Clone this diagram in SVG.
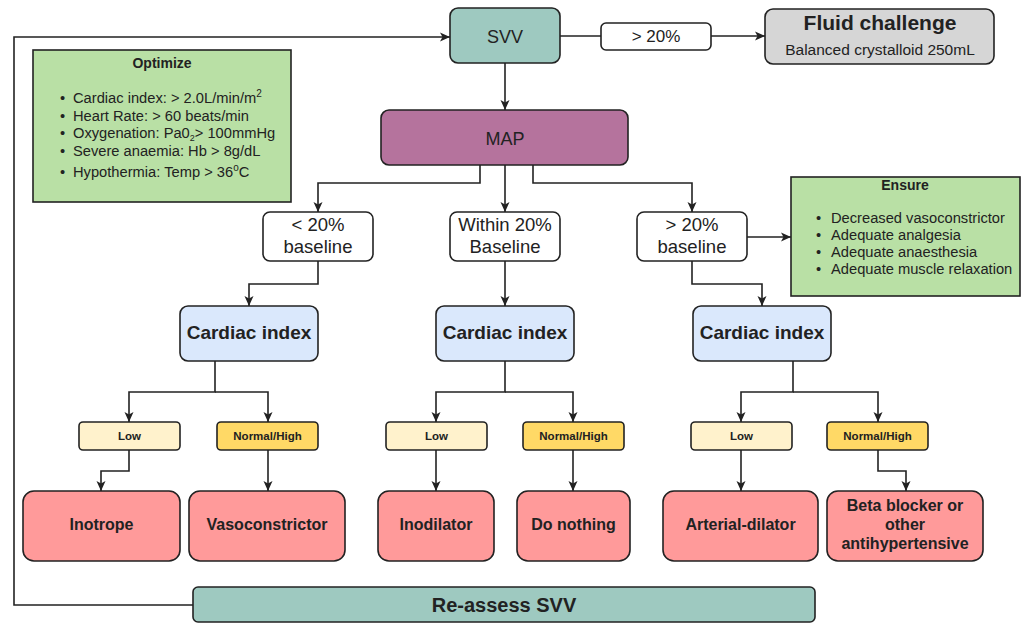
<svg xmlns="http://www.w3.org/2000/svg" width="1027" height="624" viewBox="0 0 1027 624">
<style>
text{font-family:"Liberation Sans",Arial,sans-serif;fill:#222;}
.box{stroke:#222;stroke-width:1.6;}
.c{text-anchor:middle;}
.b{font-weight:bold;}
.teal{fill:#9ec9c0;}
.lbl{fill:#ffffff;}
.ci{fill:#dae8fc;}
.low{fill:#fff2cc;}
.nh{fill:#ffd966;}
.res{fill:#ff9a9a;}
.grn{fill:#b9e0a5;}
.conn{fill:none;stroke:#222;stroke-width:1.6;}
.li{font-size:14.7px;}
.bt{font-size:16px;font-weight:bold;}
.sm{font-size:11.5px;font-weight:bold;}
</style>
<defs>
<marker id="ah" viewBox="0 0 10 10" refX="10" refY="5" markerWidth="10" markerHeight="10" orient="auto" markerUnits="userSpaceOnUse">
<path d="M0,0.5 L10,5 L0,9.5 L2.5,5 z" fill="#222"/>
</marker>
</defs>
<rect width="1027" height="624" fill="#ffffff"/>

<g id="connectors">
<path class="conn" d="M560,36 H601"/>
<path class="conn" d="M711,36 H765" marker-end="url(#ah)"/>
<path class="conn" d="M505,63 V110" marker-end="url(#ah)"/>
<path class="conn" d="M193,605 H14 V37 H450" marker-end="url(#ah)"/>
<path class="conn" d="M480,165 V183 H318 V212" marker-end="url(#ah)"/>
<path class="conn" d="M505,165 V212" marker-end="url(#ah)"/>
<path class="conn" d="M533,165 V183 H692 V212" marker-end="url(#ah)"/>
<path class="conn" d="M747,237 H791" marker-end="url(#ah)"/>
<path class="conn" d="M318,261 V284 H249 V306" marker-end="url(#ah)"/>
<path class="conn" d="M505,261 V306" marker-end="url(#ah)"/>
<path class="conn" d="M692,261 V284 H762 V306" marker-end="url(#ah)"/>
<path class="conn" d="M215,361 V392 H129 V422" marker-end="url(#ah)"/>
<path class="conn" d="M215,392 H268 V422" marker-end="url(#ah)"/>
<path class="conn" d="M129,450 V471 H101 V491" marker-end="url(#ah)"/>
<path class="conn" d="M268,450 V491" marker-end="url(#ah)"/>
<path class="conn" d="M505,361 V392 H436 V422" marker-end="url(#ah)"/>
<path class="conn" d="M505,392 H573 V422" marker-end="url(#ah)"/>
<path class="conn" d="M436,450 V491" marker-end="url(#ah)"/>
<path class="conn" d="M573,450 V491" marker-end="url(#ah)"/>
<path class="conn" d="M793,361 V392 H741 V422" marker-end="url(#ah)"/>
<path class="conn" d="M793,392 H878 V422" marker-end="url(#ah)"/>
<path class="conn" d="M741,450 V491" marker-end="url(#ah)"/>
<path class="conn" d="M878,450 V471 H906 V491" marker-end="url(#ah)"/>
</g>

<g id="svv">
<rect class="box teal" x="450" y="8" width="110" height="55" rx="8"/>
<text class="c" x="505" y="43" font-size="18">SVV</text>
</g>
<g id="gt20">
<rect class="box lbl" x="601" y="23" width="110" height="27" rx="5"/>
<text class="c" x="656" y="42" font-size="17">&gt; 20%</text>
</g>
<g id="fluid">
<rect class="box" fill="#d6d6d6" x="765" y="9" width="229" height="55" rx="8"/>
<text class="c b" x="880" y="30" font-size="21">Fluid challenge</text>
<text class="c" x="880" y="55" font-size="15.5" fill="#333">Balanced crystalloid 250mL</text>
</g>
<g id="optimize">
<rect class="box grn" x="33" y="50" width="258" height="152"/>
<text class="c b" x="162" y="68" font-size="14">Optimize</text>
<text class="li" x="60" y="103">•</text><text class="li" x="73" y="103">Cardiac index: &gt; 2.0L/min/m<tspan font-size="10" dy="-6">2</tspan></text>
<text class="li" x="60" y="121">•</text><text class="li" x="73" y="121">Heart Rate: &gt; 60 beats/min</text>
<text class="li" x="60" y="138">•</text><text class="li" x="73" y="138">Oxygenation: Pa0<tspan font-size="9" dy="3">2</tspan><tspan dy="-3">&gt; 100mmHg</tspan></text>
<text class="li" x="60" y="156">•</text><text class="li" x="73" y="156">Severe anaemia: Hb &gt; 8g/dL</text>
<text class="li" x="60" y="177">•</text><text class="li" x="73" y="177">Hypothermia: Temp &gt; 36<tspan font-size="10" dy="-6">o</tspan><tspan dy="6">C</tspan></text>
</g>
<g id="map">
<rect class="box" fill="#b5739d" x="381" y="110" width="247" height="55" rx="8"/>
<text class="c" x="505" y="145" font-size="18">MAP</text>
</g>
<g id="lt20">
<rect class="box lbl" x="263" y="212" width="110" height="49" rx="7"/>
<text class="c" x="318" y="231" font-size="18.5">&lt; 20%</text>
<text class="c" x="318" y="253" font-size="18.5">baseline</text>
</g>
<g id="within20">
<rect class="box lbl" x="450" y="212" width="110" height="49" rx="7"/>
<text class="c" x="505" y="231" font-size="18.5">Within 20%</text>
<text class="c" x="505" y="253" font-size="18.5">Baseline</text>
</g>
<g id="gt20b">
<rect class="box lbl" x="637" y="212" width="110" height="49" rx="7"/>
<text class="c" x="692" y="231" font-size="18.5">&gt; 20%</text>
<text class="c" x="692" y="253" font-size="18.5">baseline</text>
</g>
<g id="ensure">
<rect class="box grn" x="791" y="177" width="229" height="119"/>
<text class="c b" x="905" y="190" font-size="14">Ensure</text>
<text class="li" x="816" y="223">•</text><text class="li" x="831" y="223">Decreased vasoconstrictor</text>
<text class="li" x="816" y="240">•</text><text class="li" x="831" y="240">Adequate analgesia</text>
<text class="li" x="816" y="257">•</text><text class="li" x="831" y="257">Adequate anaesthesia</text>
<text class="li" x="816" y="274">•</text><text class="li" x="831" y="274">Adequate muscle relaxation</text>
</g>
<g id="ci1">
<rect class="box ci" x="180" y="306" width="138" height="55" rx="8"/>
<text class="c b" x="249" y="339" font-size="19">Cardiac index</text>
</g>
<g id="ci2">
<rect class="box ci" x="436" y="306" width="138" height="55" rx="8"/>
<text class="c b" x="505" y="339" font-size="19">Cardiac index</text>
</g>
<g id="ci3">
<rect class="box ci" x="693" y="306" width="138" height="55" rx="8"/>
<text class="c b" x="762" y="339" font-size="19">Cardiac index</text>
</g>
<g id="low1">
<rect class="box low" x="79" y="422" width="101" height="28" rx="4"/>
<text class="c sm" x="129.5" y="440">Low</text>
</g>
<g id="nh1">
<rect class="box nh" x="217" y="422" width="101" height="28" rx="4"/>
<text class="c sm" x="267.5" y="440">Normal/High</text>
</g>
<g id="low2">
<rect class="box low" x="386" y="422" width="101" height="28" rx="4"/>
<text class="c sm" x="436.5" y="440">Low</text>
</g>
<g id="nh2">
<rect class="box nh" x="523" y="422" width="101" height="28" rx="4"/>
<text class="c sm" x="573.5" y="440">Normal/High</text>
</g>
<g id="low3">
<rect class="box low" x="691" y="422" width="101" height="28" rx="4"/>
<text class="c sm" x="741.5" y="440">Low</text>
</g>
<g id="nh3">
<rect class="box nh" x="827" y="422" width="101" height="28" rx="4"/>
<text class="c sm" x="877.5" y="440">Normal/High</text>
</g>
<g id="inotrope">
<rect class="box res" x="23" y="491" width="157" height="70" rx="11"/>
<text class="c bt" x="101.5" y="530">Inotrope</text>
</g>
<g id="vasoconstrictor">
<rect class="box res" x="189" y="491" width="156" height="70" rx="11"/>
<text class="c bt" x="267" y="530">Vasoconstrictor</text>
</g>
<g id="inodilator">
<rect class="box res" x="378" y="491" width="116" height="70" rx="11"/>
<text class="c bt" x="436" y="530">Inodilator</text>
</g>
<g id="donothing">
<rect class="box res" x="517" y="491" width="113" height="70" rx="11"/>
<text class="c bt" x="573.5" y="530">Do nothing</text>
</g>
<g id="arterial">
<rect class="box res" x="663" y="491" width="155" height="70" rx="11"/>
<text class="c bt" x="740.5" y="530">Arterial-dilator</text>
</g>
<g id="beta">
<rect class="box res" x="827" y="491" width="156" height="70" rx="11"/>
<text class="c bt" x="905" y="511">Beta blocker or</text>
<text class="c bt" x="905" y="530">other</text>
<text class="c bt" x="905" y="549">antihypertensive</text>
</g>
<g id="reassess">
<rect class="box teal" x="193" y="587" width="622" height="35" rx="5"/>
<text class="c b" x="504" y="612" font-size="20">Re-assess SVV</text>
</g>
</svg>
